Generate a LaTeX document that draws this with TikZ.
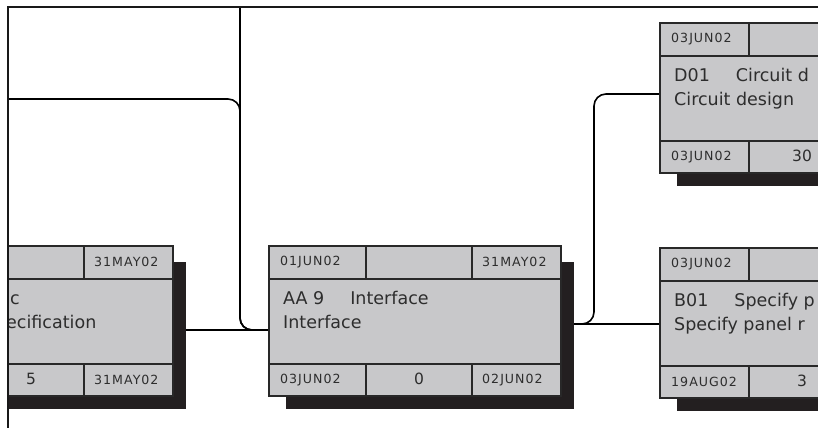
\documentclass[tikz,border=0pt]{standalone}
\usepackage{fontspec}
\setmainfont{DejaVu Sans}
\newfontfamily\datefont[LetterSpace=8]{DejaVu Sans}
\usetikzlibrary{backgrounds}
\definecolor{cellgray}{RGB}{200,200,202}
\definecolor{shadowgray}{RGB}{35,31,32}
\definecolor{rulegray}{RGB}{40,40,40}
\definecolor{inkgray}{RGB}{45,45,45}

\begin{document}
\begin{tikzpicture}[
    x=1pt, y=-1pt,
    box width/.store in=\boxw, box width=292,
    box height/.store in=\boxh, box height=150,
    mid col/.store in=\midcol, mid col=106,
    taskcell/.style={draw=rulegray, fill=cellgray, line width=2pt, inner sep=0pt,
        minimum width=\boxw, minimum height=\boxh},
    cellrule/.style={draw=rulegray, line width=2pt},
    link/.style={draw=black, line width=1.6pt, rounded corners=12pt},
    frameline/.style={draw=black!90, line width=2.2pt},
    datetext/.style={font=\datefont\fontsize{12.6}{14}\selectfont, text=inkgray, inner sep=0pt},
    nametext/.style={font=\fontsize{17.5}{20}\selectfont, text=inkgray, inner sep=0pt},
    numtext/.style={font=\fontsize{15.5}{18}\selectfont, text=inkgray, inner sep=0pt}
]
\useasboundingbox (0,0) rectangle (818,428);

% Helper macro for one task box with its shadow and cell rules
\newcommand{\taskbox}[4]{% name, x, y of top left, first column width
    \fill[shadowgray] (#2+18,#3+17) rectangle (#2+\boxw+14,#3+\boxh+14);
    \node[taskcell, anchor=north west] (#1) at (#2,#3) {};
    \draw[cellrule] (#2,#3+34) -- ++(\boxw,0);
    \draw[cellrule] (#2,#3+119) -- ++(\boxw,0);
    \draw[cellrule] (#2+#4,#3) -- ++(0,34) ++(0,85) -- ++(0,31);
    \draw[cellrule] (#2+#4+\midcol,#3) -- ++(0,34) ++(0,85) -- ++(0,31);
}

% Helper macro for the texts of one task box
\newcommand{\tasktext}[9]{% name, first column width, top left, top right, line 1, line 2, bottom left, bottom middle, bottom right
    \node[datetext, anchor=west] (#1-tl) at ([shift={(12,17)}]#1.north west) {#3};
    \node[datetext, anchor=west] (#1-tr) at ([shift={(#2+\midcol+10,17)}]#1.north west) {#4};
    \node[nametext, anchor=base west] (#1-la) at ([shift={(15,59)}]#1.north west) {#5};
    \node[nametext, anchor=base west] (#1-lb) at ([shift={(15,83)}]#1.north west) {#6};
    \node[datetext, anchor=west] (#1-bl) at ([shift={(12,135)}]#1.north west) {#7};
    \node[numtext] (#1-bm) at ([shift={(#2+\midcol/2,134)}]#1.north west) {#8};
    \node[datetext, anchor=west] (#1-br) at ([shift={(#2+\midcol+10,135)}]#1.north west) {#9};
}

\begin{scope}
\clip (8,0) rectangle (818,428);

% Box 1: specification (cut at the left edge)
\taskbox{spec}{-120}{245}{98}
\tasktext{spec}{98}{}{31MAY02}{}{}{}{5}{31MAY02}
\node[nametext, anchor=base west] (spec-cuta) at (10,304) {c};
\node[nametext, anchor=base west] (spec-cutb) at (6,328) {ecification};

% Box 2: AA 9
\taskbox{iface}{268}{245}{98}
\tasktext{iface}{98}{01JUN02}{31MAY02}{AA 9\hspace{26pt}Interface}{Interface}{03JUN02}{0}{02JUN02}

% Box 3: D01
\taskbox{circ}{659}{22}{90}
\tasktext{circ}{90}{03JUN02}{}{D01\hspace{26pt}Circuit d}{Circuit design}{03JUN02}{30}{}

% Box 4: B01
\taskbox{panel}{659}{247}{90}
\tasktext{panel}{90}{03JUN02}{}{B01\hspace{26pt}Specify p}{Specify panel r}{19AUG02}{3}{}
\end{scope}

% Frame
\coordinate (frame-nw) at (8,7);
\coordinate (frame-ne) at (818,7);
\coordinate (frame-sw) at (8,428);
\coordinate (frame-w) at (8,99);
\coordinate (drop) at (240,7);
\coordinate (bend) at (240,99);
\draw[frameline] (frame-ne) -- (frame-nw) -- (frame-sw);

% Links
\begin{scope}[on background layer]
\coordinate (iface-in) at ([yshift=-9pt]iface.west);
\coordinate (iface-out) at ([yshift=-3pt]iface.east);
\draw[link] (spec.east |- iface-in) -- (iface-in);
\draw[link] (frame-w) -- (bend) -- (bend |- iface-in) -- (iface-in);
\draw[link] (drop) -- (drop |- iface-in) -- (iface-in);
\draw[link] (iface-out) -- (iface-out -| panel.west);
\draw[link] (iface-out) -- ++(32,0) |- ([yshift=4pt]circ.west);
\end{scope}

\end{tikzpicture}
\end{document}
